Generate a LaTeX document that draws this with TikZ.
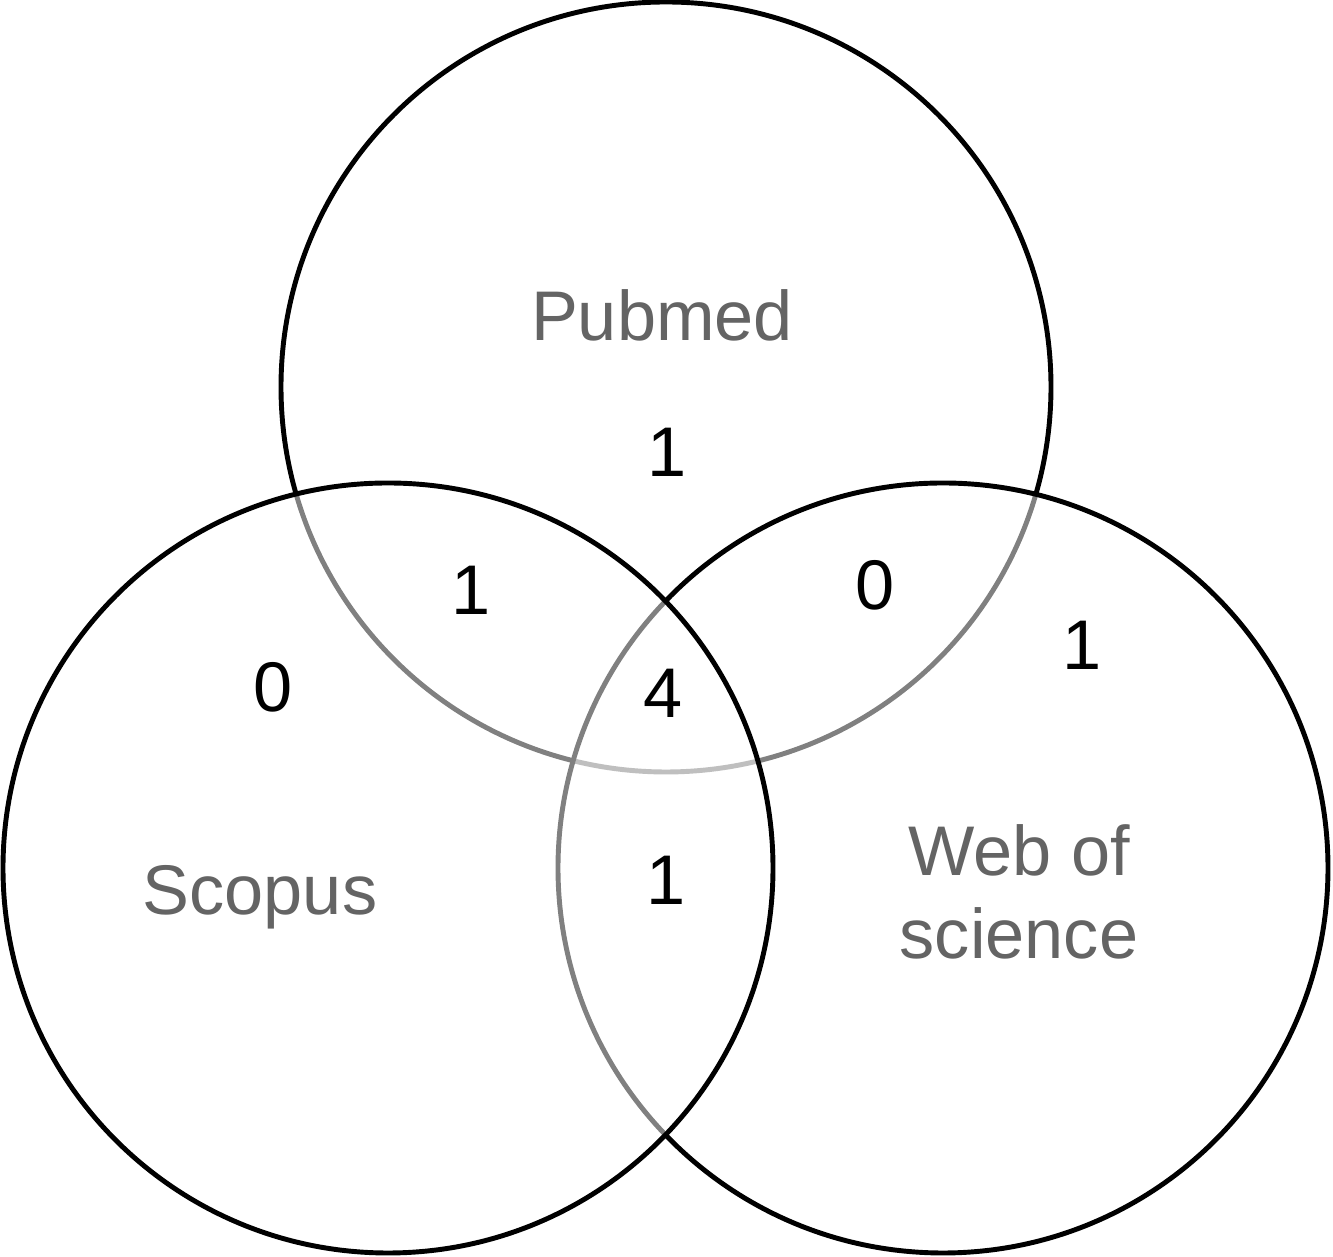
\documentclass[tikz,border=0pt]{standalone}
\usepackage{fontspec}
\setmainfont{Liberation Sans}
\definecolor{labelgray}{RGB}{100,100,100}
\tikzset{
  dbset/.style={circle,draw=black,line width=1.4pt,minimum size=7.7cm,inner sep=0pt,
    fill=white,fill opacity=0.5},
  dbname/.style={text=labelgray,font=\fontsize{20}{23.6}\selectfont,align=center},
  count/.style={text=black,font=\fontsize{20}{24}\selectfont}
}
\begin{document}
\begin{tikzpicture}
\useasboundingbox (0,0) rectangle (13.33,-12.57);
            % Sets
\node[dbset] (pubmed) at (6.66,-3.87) {};
\node[dbset] (wos) at (9.43,-8.68) {};
\node[dbset] (scopus) at (3.88,-8.68) {};
            % Names
\node[dbname] (pubmedname) at (6.62,-3.15) {Pubmed};
\node[dbname] (scopusname) at (2.60,-8.97) {Scopus};
\node[dbname] (wosname) at (10.19,-8.92) {Web of\\science};
            % Counts
\node[count] (nP) at (6.67,-4.52) {1};
\node[count] (nPS) at (4.71,-5.90) {1};
\node[count] (nPW) at (8.75,-5.85) {0};
\node[count] (nS) at (2.73,-6.87) {0};
\node[count] (nW) at (10.82,-6.45) {1};
\node[count] (nPSW) at (6.63,-6.93) {4};
\node[count] (nSW) at (6.66,-8.80) {1};
\end{tikzpicture}
\end{document}
